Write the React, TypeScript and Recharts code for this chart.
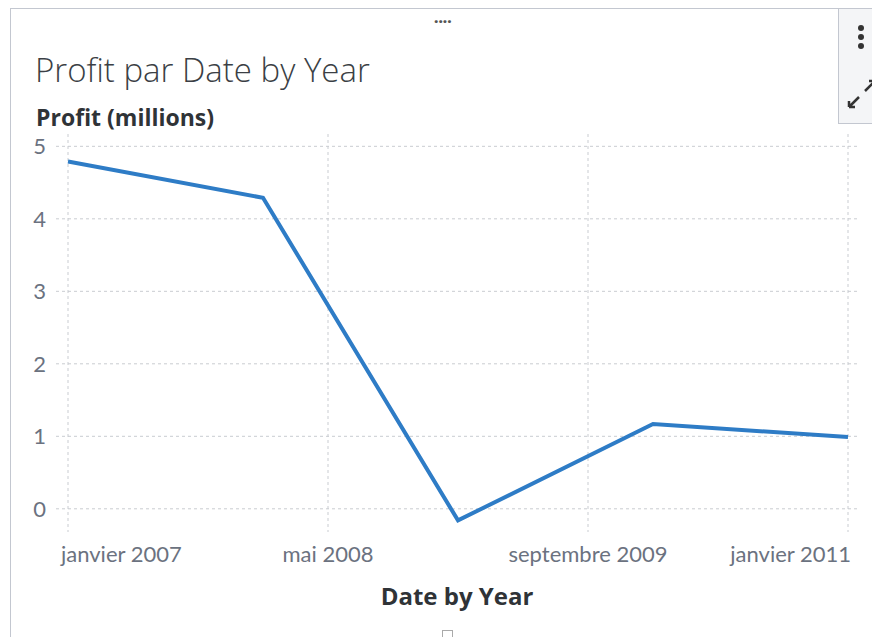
import React from "react";
import { LineChart, Line, XAxis, YAxis, CartesianGrid } from "recharts";

const years = [2007, 2008, 2009, 2010, 2011];
const profit = [4.79, 4.29, -0.16, 1.17, 0.99];
const xTicks = [2007, 2008 + 4 / 12, 2009 + 8 / 12, 2011];
const xTickLabels = ["janvier 2007", "mai 2008", "septembre 2009", "janvier 2011"];
const yTicks = [0, 1, 2, 3, 4, 5];

const data = years.map((y, i) => ({ year: y, profit: profit[i] }));

const TICK_FONT = "Lato, 'Noto Sans', sans-serif";
const HEAD_FONT = "'Open Sans', 'Noto Sans', sans-serif";
const GRID = "#c9ccd1";
const TICK = "#6b7280";

const fmtX = (v: number) => {
  const idx = xTicks.findIndex((t) => Math.abs(t - v) < 1e-6);
  return idx >= 0 ? xTickLabels[idx] : "";
};

const XTick = (props: any) => {
  const { x, payload, index } = props;
  const last = xTicks.length - 1;
  const anchor = index === 0 ? "start" : index === last ? "end" : "middle";
  const dx = index === 0 ? -7 : index === last ? 3 : 0;
  return (
    <text x={x + dx} y={562} textAnchor={anchor} fill={TICK} fontSize={22} fontFamily={TICK_FONT}>
      {fmtX(payload.value)}
    </text>
  );
};

export default function App() {
  return (
    <div style={{ position: "absolute", left: 0, top: 0, width: 872, height: 637, background: "#fff", overflow: "hidden" }}>
      <div style={{ position: "absolute", left: 10, top: 8, width: 880, height: 640, borderLeft: "1.5px solid #c3c7d0", borderTop: "1.5px solid #c3c7d0" }} />
      <div style={{ position: "absolute", left: 838, top: 8, width: 40, height: 114, border: "1.5px solid #c3c7d0", background: "#f4f5f7" }}>
        {[0, 1, 2].map((i) => (
          <div key={i} style={{ position: "absolute", left: 19, top: 16 + i * 9, width: 6, height: 6, borderRadius: 3, background: "#333" }} />
        ))}
        <svg style={{ position: "absolute", left: 6, top: 70 }} width="30" height="32">
          <path d="M4 28 L14 18 M4 28 L4 22 M4 28 L10 28" stroke="#333" strokeWidth="2.5" fill="none" />
          <path d="M20 12 L30 2 M30 2 L24 2 M30 2 L30 8" stroke="#333" strokeWidth="2.5" fill="none" />
        </svg>
      </div>
      <div style={{ position: "absolute", left: 434, top: 10, fontSize: 16, fontWeight: 700, color: "#555", fontFamily: TICK_FONT }}>····</div>
      <div style={{ position: "absolute", left: 442, top: 630, width: 9, height: 9, border: "1px solid #aaa" }} />
      <div style={{ position: "absolute", left: 35, top: 53, fontSize: 33, lineHeight: 1, fontWeight: 300, color: "#3b3f45", fontFamily: HEAD_FONT, whiteSpace: "nowrap" }}>
        Profit par Date by Year
      </div>
      <div style={{ position: "absolute", left: 36, top: 106, fontSize: 23, lineHeight: 1, fontWeight: 700, color: "#2f3337", fontFamily: HEAD_FONT, whiteSpace: "nowrap" }}>
        Profit (millions)
      </div>
      <div style={{ position: "absolute", left: 0, top: 0 }}>
        <LineChart width={872} height={637} data={data} margin={{ top: 134, right: 14, bottom: 75, left: 10 }}>
          <CartesianGrid stroke={GRID} strokeDasharray="3 3" horizontalValues={yTicks} verticalValues={xTicks} />
          <XAxis
            dataKey="year"
            type="number"
            domain={[2007, 2011]}
            ticks={xTicks}
            tickFormatter={fmtX}
            padding={{ left: 12, right: 10 }}
            axisLine={false}
            tickLine={false}
            height={30}
            interval={0}
            tick={<XTick />}
            label={{ value: "Date by Year", position: "insideBottom", offset: -43, fill: "#2f3337", fontSize: 24, fontWeight: 700, fontFamily: HEAD_FONT }}
          />
          <YAxis
            type="number"
            domain={[-0.32, 5.17]}
            ticks={yTicks}
            width={46}
            axisLine={false}
            tickLine={false}
            tickMargin={4}
            tick={{ fill: TICK, fontSize: 22, fontFamily: TICK_FONT }}
          />
          <Line type="linear" dataKey="profit" stroke="#2e7cc6" strokeWidth={4} dot={false} isAnimationActive={false} />
        </LineChart>
      </div>
    </div>
  );
}
